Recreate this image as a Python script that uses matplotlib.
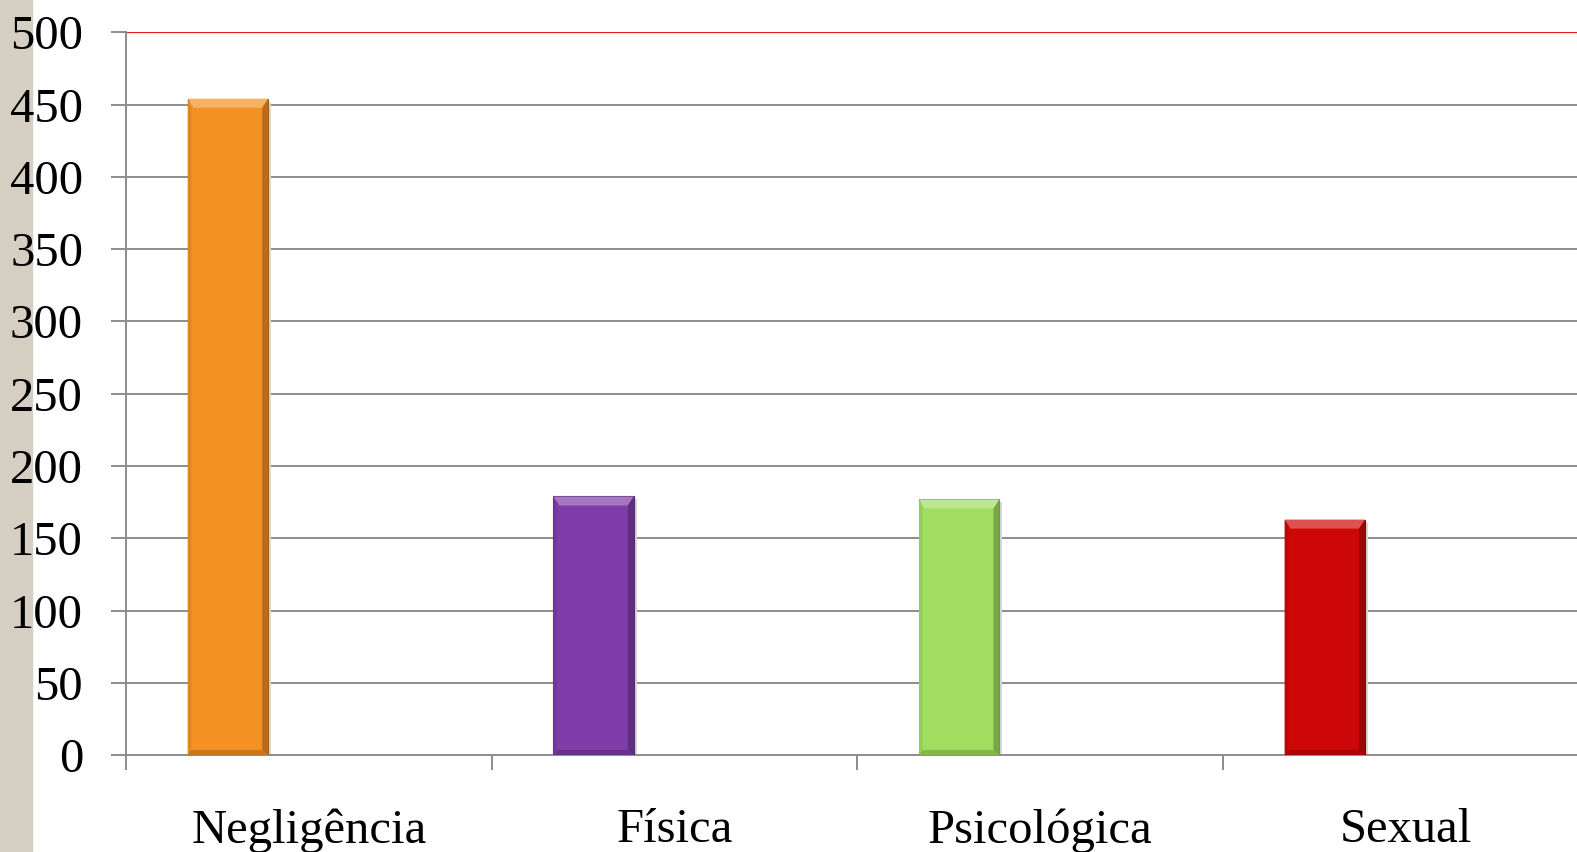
import numpy as np
import matplotlib.pyplot as plt
from matplotlib.patches import Polygon, Rectangle
from matplotlib.colors import to_rgb

categorias = ['Negligência', 'Física', 'Psicológica', 'Sexual']
casos = [454, 179, 177, 163]
cores = ['#F39125', '#7E3DA9', '#A1DE5F', '#CD0707']

plt.rcParams['font.family'] = ['Liberation Serif', 'DejaVu Serif']

fig = plt.figure(figsize=(15.77, 8.52), dpi=100)
# beige strip on the left, behind the tick labels
fig.patches.append(Rectangle((0, 0), 32 / 1577, 1, transform=fig.transFigure,
                             color='#D4CEC3', zorder=-5))
ax = fig.add_axes([0.0800, 0.1134, 0.9274, 0.8488])
ax.patch.set_alpha(0)

grid = '#8C8C8C'
ax.set_ylim(0, 500)
ax.set_xlim(0, 4)
ax.set_yticks(np.arange(0, 501, 50))
for y in np.arange(50, 451, 50):
    ax.axhline(y, color=grid, lw=1.4, zorder=1)
ax.axhline(500, color='#E8191E', lw=1.6, zorder=1)

for s in ['top', 'right']:
    ax.spines[s].set_visible(False)
for s in ['left', 'bottom']:
    ax.spines[s].set_color(grid)
    ax.spines[s].set_linewidth(1.4)

ax.tick_params(axis='y', length=11, width=1.4, color=grid, pad=20,
               labelsize=35)
ax.set_xticks(range(4))
ax.set_xticklabels([])
ax.set_xticks(np.arange(4) + 0.5, labels=categorias, minor=True)
ax.tick_params(axis='x', which='major', length=11, width=1.4, color=grid)
ax.tick_params(axis='x', which='minor', length=0, pad=38, labelsize=35)


def mistura(c, alvo, f):
    c = np.array(to_rgb(c))
    return tuple(c + (np.array(alvo) - c) * f)


largura = 0.22
desloc = 0.5 - 81 / 365.6
bx = 6 / 365.6   # bevel width in x
by = 9 / 1.4464  # bevel height in y

for i, (v, c) in enumerate(zip(casos, cores)):
    x0 = i + desloc - largura / 2
    x1 = x0 + largura
    # soft shadow
    ax.add_patch(Rectangle((x1, 0), 3 / 365.6, v - 2, color='#D8D8D8',
                           lw=0, zorder=2))
    ax.bar(i + desloc, v, width=largura, color=c, zorder=3,
           edgecolor=mistura(c, (0, 0, 0), 0.35), linewidth=0.8)
    escuro = mistura(c, (0, 0, 0), 0.25)
    claro = mistura(c, (1, 1, 1), 0.3)
    ax.add_patch(Polygon([(x0, v), (x1, v), (x1 - bx, v - by), (x0 + bx, v - by)],
                         closed=True, color=claro, lw=0, zorder=4))
    ax.add_patch(Polygon([(x1, v), (x1, 0), (x1 - bx, by * 0.6), (x1 - bx, v - by)],
                         closed=True, color=escuro, lw=0, zorder=4))
    ax.add_patch(Polygon([(x0, v), (x0, 0), (x0 + bx * 0.6, by * 0.6), (x0 + bx * 0.6, v - by)],
                         closed=True, color=mistura(c, (0, 0, 0), 0.08), lw=0, zorder=4))
    ax.add_patch(Polygon([(x0, 0), (x1, 0), (x1 - bx, by * 0.6), (x0 + bx * 0.6, by * 0.6)],
                         closed=True, color=mistura(c, (0, 0, 0), 0.18), lw=0, zorder=4))

fig.savefig('out.png', dpi=100)
